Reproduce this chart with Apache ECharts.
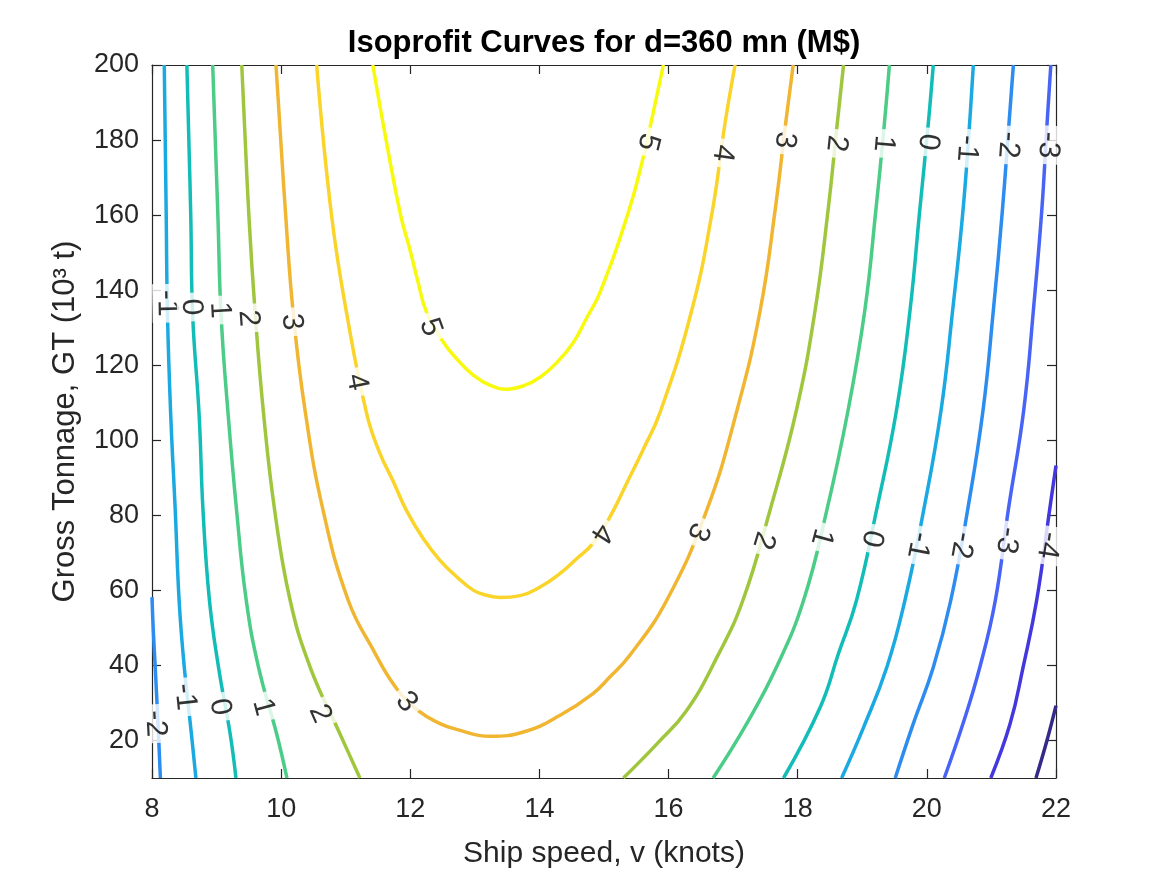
<!DOCTYPE html>
<html>
<head>
<meta charset="utf-8">
<script src="https://cdn.jsdelivr.net/npm/echarts@6/dist/echarts.min.js"></script>
<style>
  html, body { margin: 0; padding: 0; background: #fff; }
  #echarts { width: 1167px; height: 875px; }
</style>
</head>
<body>
<div id="echarts"></div>
<script>
// tick labels
var xTicks = [8, 10, 12, 14, 16, 18, 20, 22];
var yTicks = [20, 40, 60, 80, 100, 120, 140, 160, 180, 200];

// contour levels and their parula colours
var levels = [-5, -4, -3, -2, -1, 0, 1, 2, 3, 4, 5];
var colors = ['#352a87', '#4338de', '#4764f6', '#2c8cf0', '#1ba9e1', '#13bdb7',
              '#4bcc87', '#9fc63d', '#f1b631', '#fbd42a', '#f8fa0e'];

// contour lines: [speed (knots), GT (10^3 t)]
var c5 = [[11.42, 200], [11.62, 180.5], [11.85, 160], [11.99, 151.1], [12.12, 142.2], [12.25, 134.2], [12.51, 126.2],
          [12.74, 121.3], [12.98, 117.3], [13.23, 114.7], [13.49, 113.6], [13.75, 114.5], [14.01, 116.8], [14.27, 120.7],
          [14.52, 125.9], [14.73, 132.5], [14.94, 139.5], [15.38, 160.9], [15.61, 175.5], [15.72, 184], [15.92, 200]];
var c4 = [[10.55, 200], [10.78, 160], [11.02, 133.3], [11.33, 106.7], [11.53, 96.5], [11.74, 88.9], [11.94, 81.3],
          [12.20, 73.8], [12.46, 68.0], [12.72, 63.6], [12.98, 60.0], [13.18, 58.7], [13.39, 58.1], [13.70, 58.6],
          [14.01, 60.9], [14.32, 64.5], [14.58, 68.5], [14.83, 72.5], [15.09, 79.5], [15.35, 88.5], [15.60, 97.3],
          [15.87, 107.5], [16.36, 134.7], [16.68, 161.3], [16.87, 184], [17.03, 200]];
var c3 = [[9.92, 200], [10.07, 160], [10.19, 133.3], [10.37, 108], [10.65, 81.3], [11.04, 57.3], [11.43, 44.0],
          [11.79, 33.8], [12.15, 27.6], [12.46, 24.5], [12.69, 23.1], [13.23, 21.1], [13.78, 22.4], [14.32, 26.7],
          [14.83, 32.5], [15.09, 36.9], [15.40, 42.7], [15.97, 57.3], [16.59, 81.3], [17.06, 108], [17.42, 134.7],
          [17.65, 161.3], [17.81, 184], [17.93, 200]];
var c2a = [[9.39, 200], [9.50, 160], [9.60, 133.3], [9.73, 106.7], [9.90, 81.3], [10.14, 57.3], [10.45, 39.5], [10.91, 21.8], [11.22, 10]];
var c2b = [[15.30, 10], [15.82, 19.1], [16.28, 28.0], [16.75, 42.2], [17.15, 57.3], [17.57, 81.3], [17.98, 108], [18.27, 134.7], [18.47, 161.3], [18.61, 184], [18.71, 200]];
var c1a = [[8.94, 200], [9.02, 160], [9.07, 133.3], [9.18, 106.7], [9.31, 81.3], [9.46, 57.3], [9.65, 39.5], [9.93, 21.8], [10.09, 10]];
var c1b = [[16.69, 10], [17.21, 24.5], [17.67, 39.5], [18.09, 57.3], [18.45, 81.3], [18.78, 108], [19.04, 134.7], [19.21, 161.3], [19.34, 184], [19.42, 200]];
var c0a = [[8.54, 200], [8.60, 160], [8.63, 133.3], [8.73, 106.7], [8.79, 81.3], [8.89, 57.3], [9.03, 39.5], [9.21, 21.8], [9.30, 10]];
var c0b = [[17.78, 10], [18.35, 28.9], [18.63, 43.1], [18.91, 57.3], [19.22, 81.3], [19.53, 108], [19.74, 134.7], [19.89, 161.3], [20.02, 184], [20.10, 200]];
var cm1a = [[8.19, 200], [8.22, 160], [8.24, 133.3], [8.29, 106.7], [8.36, 81.3], [8.42, 57.3], [8.50, 39.5], [8.61, 21.8], [8.68, 10]];
var cm1b = [[18.68, 10], [19.02, 23.5], [19.38, 39.5], [19.66, 57.3], [19.95, 81.3], [20.22, 108], [20.40, 134.7], [20.56, 161.3], [20.66, 184], [20.72, 200]];
var cm2a = [[8.0, 58.2], [8.02, 49.3], [8.05, 39.5], [8.10, 21.8], [8.13, 10]];
var cm2b = [[19.51, 10], [19.79, 24.5], [20.10, 39.5], [20.37, 57.3], [20.63, 81.3], [20.87, 108], [21.03, 134.7], [21.17, 161.3], [21.27, 184], [21.34, 200]];
var cm3 = [[20.27, 10], [20.56, 24.5], [20.82, 39.5], [21.06, 57.3], [21.26, 81.3], [21.50, 108], [21.65, 134.7], [21.78, 161.3], [21.86, 184], [21.92, 200]];
var cm4 = [[20.99, 10], [21.29, 24.5], [21.49, 39.5], [21.70, 57.3], [21.90, 81.3], [22.0, 93.3]];
var cm5 = [[21.69, 10], [21.86, 20], [22.0, 29.3]];

// which level each line belongs to
var lines = [
    [5, c5], [4, c4], [3, c3], [2, c2a], [2, c2b], [1, c1a], [1, c1b], [0, c0a], [0, c0b],
    [-1, cm1a], [-1, cm1b], [-2, cm2a], [-2, cm2b], [-3, cm3], [-4, cm4], [-5, cm5]
];

// inline contour labels: [speed, GT, text, angle]
var contourLabels = [
    [8.23, 136.5, '-1', -89], [8.61, 135.5, '0', -88], [9.05, 134.7, '1', -87], [9.49, 132.5, '2', -86],
    [10.16, 131.5, '3', -84], [11.17, 115.5, '4', -79], [12.31, 130.1, '5', -70],
    [8.05, 24.5, '-2', -87], [8.51, 31.6, '-1', -84], [9.05, 28.9, '0', -80], [9.72, 28.9, '1', -75],
    [10.60, 27.1, '2', -66], [11.94, 30.2, '3', -50],
    [14.96, 75.2, '4', -123], [16.46, 75.6, '3', -114], [17.47, 73.3, '2', -107], [18.37, 74.2, '1', -105],
    [19.15, 73.8, '0', -103], [19.87, 72.0, '-1', -101], [20.54, 72.0, '-2', -100], [21.24, 73.3, '-3', -98],
    [21.88, 72.0, '-4', -99],
    [15.68, 179.5, '5', -104], [16.84, 176.5, '4', -98], [17.80, 180, '3', -97], [18.60, 179.1, '2', -96],
    [19.33, 179.1, '1', -95], [20.02, 179.5, '0', -96], [20.62, 177.8, '-1', -94], [21.26, 178.7, '-2', -94],
    [21.88, 178.7, '-3', -93]
];

window.onload = function () {
    var font = 'Liberation Sans, Arial, Helvetica, sans-serif';
    var ink = '#262626';

    var series = lines.map(function (l) {
        return {
            type: 'line',
            data: l[1],
            showSymbol: false,
            smooth: 0.45,
            clip: true,
            silent: true,
            z: 2,
            lineStyle: { color: colors[levels.indexOf(l[0])], width: 3.5 }
        };
    });

    // labels sit on the lines, white box cuts the gap
    series.push({
        type: 'scatter',
        symbolSize: 1,
        silent: true,
        z: 5,
        itemStyle: { color: 'rgba(0,0,0,0)' },
        data: contourLabels.map(function (c) {
            return { value: [c[0], c[1]], name: c[2], label: { rotate: c[3], fontSize: 30 } };
        }),
        label: {
            show: true,
            position: 'inside',
            formatter: '{b}',
            fontFamily: font,
            fontSize: 30,
            color: '#000',
            backgroundColor: '#fff',
            padding: [0, 6],
            lineHeight: 29
        }
    });

    var xBase = {
        type: 'value', min: 8, max: 22, interval: 2,
        splitLine: { show: false },
        axisLine: { show: true, lineStyle: { color: ink, width: 1.2 } },
        axisTick: { show: true, inside: true, length: 9, lineStyle: { color: ink, width: 1.2 } }
    };
    var yBase = {
        type: 'value', min: 10, max: 200,
        splitLine: { show: false },
        axisLine: { show: true, lineStyle: { color: ink, width: 1.2 } },
        axisTick: { show: true, inside: true, length: 9, customValues: yTicks, lineStyle: { color: ink, width: 1.2 } }
    };

    var option = {
        backgroundColor: '#fff',
        animation: false,
        title: {
            text: 'Isoprofit Curves for d=360 mn (M$)',
            left: 604,
            textAlign: 'center',
            top: 28,
            padding: 0,
            textStyle: { fontFamily: font, fontSize: 31, fontWeight: 'bold', color: '#000' }
        },
        grid: { left: 152, right: 111, top: 65, bottom: 97, containLabel: false },
        xAxis: [
            Object.assign({}, xBase, {
                position: 'bottom',
                name: 'Ship speed, v (knots)',
                nameLocation: 'middle',
                nameGap: 61,
                nameTextStyle: { fontFamily: font, fontSize: 30, color: ink },
                axisLabel: { fontFamily: font, fontSize: 27, color: ink, margin: 18,
                    formatter: function (v) { return xTicks.indexOf(v) >= 0 ? String(v) : ''; } }
            }),
            Object.assign({}, xBase, { position: 'top', axisLabel: { show: false } })
        ],
        yAxis: [
            Object.assign({}, yBase, {
                position: 'left',
                name: 'Gross Tonnage, GT (10³ t)',
                nameLocation: 'middle',
                nameGap: 71,
                nameTextStyle: { fontFamily: font, fontSize: 31, color: ink },
                axisLabel: { fontFamily: font, fontSize: 27, color: ink, margin: 13, customValues: yTicks }
            }),
            Object.assign({}, yBase, { position: 'right', axisLabel: { show: false } })
        ],
        series: series
    };

    var mychart = echarts.init(document.getElementById('echarts'));
    mychart.setOption(option);
};
</script>
</body>
</html>
